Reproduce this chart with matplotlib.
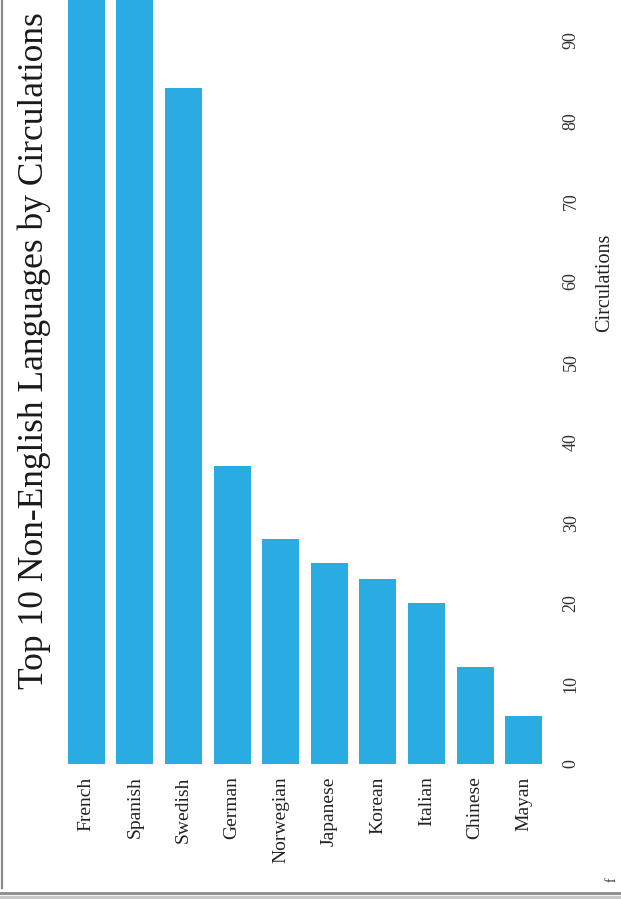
import matplotlib.pyplot as plt
from matplotlib.lines import Line2D

# circulation counts per language (top two run off the page)
languages = ['French', 'Spanish', 'Swedish', 'German', 'Norwegian',
             'Japanese', 'Korean', 'Italian', 'Chinese', 'Mayan']
circulations = [126, 112, 84, 37, 28, 25, 23, 20, 12, 6]
value_ticks = [0, 10, 20, 30, 40, 50, 60, 70, 80, 90]

bar_color = '#2AACE2'
serif = ['Liberation Serif', 'DejaVu Serif']

W, H = 621, 899
fig = plt.figure(figsize=(W / 100, H / 100), dpi=100)

# the chart is laid out sideways: bars rise from the bottom edge
left, right = 57 / W, 553 / W
bottom = (H - 764) / H
ax = fig.add_axes([left, bottom, right - left, 1.0 - bottom])

xs = range(len(languages))
ax.bar(xs, circulations, width=0.76, color=bar_color)
ax.set_xlim(-0.6, len(languages) - 0.4)
ax.set_ylim(0, 95)

ax.set_xticks(list(xs))
ax.set_xticklabels(languages, rotation=90, va='top', ha='center',
                   fontsize=14, family=serif, color='#222222')
ax.yaxis.tick_right()
ax.set_yticks(value_ticks)
ax.set_yticklabels([str(v) for v in value_ticks], rotation=90, va='center',
                   ha='left', fontsize=13, family=serif, color='#333333')
ax.tick_params(axis='x', length=0, pad=9)
ax.tick_params(axis='y', length=0, pad=7)
for s in ax.spines.values():
    s.set_visible(False)

# title and value-axis label, both read bottom-to-top
fig.text(34 / W, (H - 689) / H, 'Top 10 Non-English Languages by Circulations',
         rotation=90, ha='center', va='bottom', fontsize=25.5, family=serif,
         color='#1a1a1a')
fig.text(605 / W, (H - 283) / H, 'Circulations', rotation=90,
         ha='center', va='center', fontsize=14.5, family=serif, color='#222222')
fig.text(612 / W, (H - 880) / H, 'f', rotation=90, ha='center', va='center',
         fontsize=10, family=serif, color='#333333')

# page edges
fig.add_artist(Line2D([1.5 / W, 1.5 / W], [(H - 888) / H, 1.0],
                      transform=fig.transFigure, color='#8a8a8a', lw=1.6))
fig.add_artist(Line2D([0, 1], [(H - 893) / H, (H - 893) / H],
                      transform=fig.transFigure, color='#8a8a8a', lw=2.0))
fig.add_artist(Line2D([0, 1], [(H - 897) / H, (H - 897) / H],
                      transform=fig.transFigure, color='#c8c8c8', lw=2.5))

fig.savefig('out.png', dpi=100)
